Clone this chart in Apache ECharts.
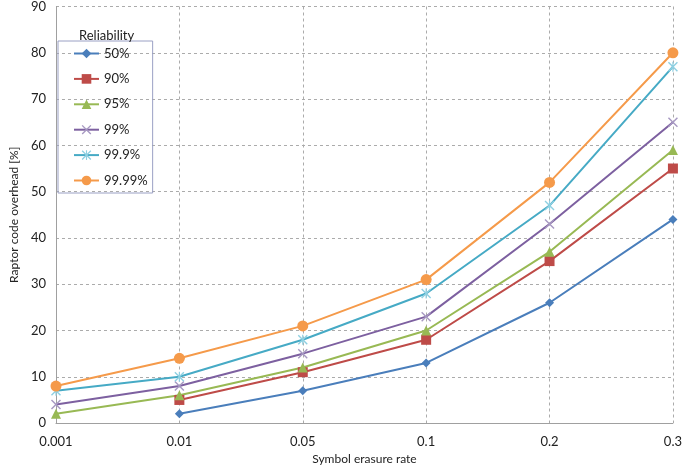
<!DOCTYPE html>
<html><head><meta charset="utf-8">
<script src="https://cdn.jsdelivr.net/npm/echarts@6/dist/echarts.min.js"></script>
<style>html,body{margin:0;padding:0;background:#fff}#c{width:685px;height:470px}</style>
</head><body><div id="c"></div>
<script>
const categories = ['0.001', '0.01', '0.05', '0.1', '0.2', '0.3'];
const seriesNames = ['50%', '90%', '95%', '99%', '99.9%', '99.99%'];
const s50 = [null, 2, 7, 13, 26, 44];
const s90 = [null, 5, 11, 18, 35, 55];
const s95 = [2, 6, 12, 20, 37, 59];
const s99 = [4, 8, 15, 23, 43, 65];
const s999 = [7, 10, 18, 28, 47, 77];
const s9999 = [8, 14, 21, 31, 52, 80];
const yTicks = [0, 10, 20, 30, 40, 50, 60, 70, 80, 90];

const colors = ['#4a7ebb', '#be4b48', '#98b954', '#7d60a0', '#46aac5', '#f59a4a'];
const markerColors = ['#4a7ebb', '#be4b48', '#98b954', '#a799c2', '#8fd0e2', '#f59a4a'];
const xPath = 'path://M0,1 L1,0 L5,4 L9,0 L10,1 L6,5 L10,9 L9,10 L5,6 L1,10 L0,9 L4,5 Z';
const starPath = 'path://M0,1 L1,0 L5,4 L9,0 L10,1 L6,5 L10,9 L9,10 L5,6 L1,10 L0,9 L4,5 Z M4.4,0 L5.6,0 L5.6,10 L4.4,10 Z';
const symbols = ['diamond', 'rect', 'triangle', xPath, starPath, 'circle'];
const sizes = [9, 10, 10, 10, 10, 11];
const data = [s50, s90, s95, s99, s999, s9999];
const font = 'Lato, "Open Sans", sans-serif';

const chart = echarts.init(document.getElementById('c'));
chart.setOption({
  animation: false,
  textStyle: {fontFamily: font},
  title: {text: 'Reliability', left: 74, top: 24, textStyle: {fontSize: 13, fontWeight: 'normal', color: '#222', fontFamily: font}},
  legend: {
    orient: 'vertical', left: 58, top: 41,
    padding: [6, 5, 6, 15],
    itemWidth: 25, itemHeight: 12, itemGap: 12.4,
    borderColor: '#9aa0c4', borderWidth: 1,
    textStyle: {fontSize: 13, color: '#222', fontFamily: font},
    data: seriesNames
  },
  grid: {left: 39, right: 9, top: 6, bottom: 41, containLabel: false},
  xAxis: {
    type: 'category', data: categories, boundaryGap: false,
    name: 'Symbol erasure rate', nameLocation: 'middle', nameGap: 29,
    nameTextStyle: {fontSize: 12, color: '#222', fontFamily: font},
    axisLine: {lineStyle: {color: '#a0a0a0', width: 1}},
    axisTick: {show: false},
    axisLabel: {fontSize: 13, color: '#222', margin: 12},
    splitLine: {show: true, lineStyle: {color: '#ababab', type: [3, 3], width: 1}}
  },
  yAxis: {
    type: 'value', min: yTicks[0], max: yTicks[yTicks.length - 1], interval: 10,
    name: 'Raptor code overhead [%]', nameLocation: 'middle', nameGap: 27,
    nameTextStyle: {fontSize: 12, color: '#222', fontFamily: font},
    axisLine: {show: true, lineStyle: {color: '#a0a0a0', width: 1}},
    axisTick: {show: false},
    axisLabel: {fontSize: 13, color: '#222', margin: 10},
    splitLine: {show: true, lineStyle: {color: '#ababab', type: [3, 3], width: 1}}
  },
  series: data.map((d, i) => ({
    name: seriesNames[i], type: 'line', data: d,
    symbol: symbols[i], symbolSize: sizes[i], showSymbol: true,
    lineStyle: {color: colors[i], width: 2},
    itemStyle: {color: markerColors[i], borderWidth: 0},
    connectNulls: false
  }))
});
</script></body></html>
